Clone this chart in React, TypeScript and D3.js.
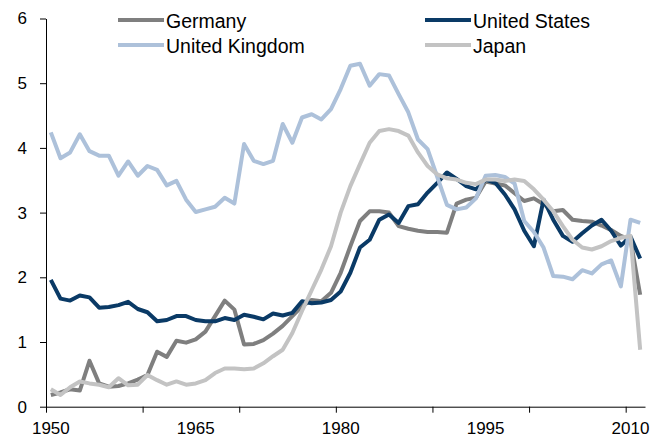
import React, { useEffect, useRef } from 'react';
import * as d3 from 'd3';

// Categories (one per year)
const years = d3.range(1950, 2012);

// Series values, 1950..2011
const germany = [
  0.18, 0.22, 0.27, 0.25, 0.71, 0.36, 0.31, 0.32, 0.36, 0.42,
  0.49, 0.85, 0.77, 1.02, 0.99, 1.04, 1.16, 1.40, 1.64, 1.50,
  0.96, 0.97, 1.03, 1.13, 1.25, 1.40, 1.55, 1.65, 1.63, 1.76,
  2.07, 2.48, 2.87, 3.02, 3.02, 3.00, 2.79, 2.75, 2.72, 2.70,
  2.70, 2.69, 3.14, 3.20, 3.23, 3.48, 3.45, 3.42, 3.30, 3.18,
  3.22, 3.13, 3.02, 3.04, 2.89, 2.87, 2.86, 2.80, 2.73, 2.64,
  2.58, 1.73,
];
const unitedStates = [
  1.96, 1.67, 1.64, 1.72, 1.69, 1.53, 1.54, 1.57, 1.62, 1.51,
  1.46, 1.32, 1.34, 1.40, 1.40, 1.34, 1.32, 1.32, 1.37, 1.34,
  1.42, 1.39, 1.35, 1.44, 1.41, 1.45, 1.63, 1.60, 1.61, 1.65,
  1.78, 2.07, 2.46, 2.58, 2.89, 2.97, 2.84, 3.10, 3.13, 3.31,
  3.46, 3.62, 3.52, 3.41, 3.36, 3.51, 3.46, 3.28, 3.05, 2.72,
  2.48, 3.20, 2.89, 2.64, 2.55, 2.68, 2.80, 2.89, 2.72, 2.49,
  2.63, 2.29,
];
const unitedKingdom = [
  4.24, 3.84, 3.93, 4.21, 3.95, 3.88, 3.88, 3.57, 3.79, 3.57,
  3.72, 3.66, 3.42, 3.49, 3.20, 3.01, 3.05, 3.09, 3.23, 3.14,
  4.06, 3.80, 3.75, 3.80, 4.37, 4.08, 4.47, 4.52, 4.44, 4.60,
  4.91, 5.27, 5.30, 4.96, 5.14, 5.12, 4.83, 4.55, 4.13, 3.98,
  3.55, 3.12, 3.05, 3.08, 3.22, 3.57, 3.58, 3.55, 3.45, 2.87,
  2.70, 2.46, 2.02, 2.01, 1.97, 2.11, 2.06, 2.20, 2.26, 1.86,
  2.89, 2.84,
];
const japan = [
  0.27, 0.18, 0.30, 0.39, 0.36, 0.34, 0.30, 0.44, 0.33, 0.34,
  0.49, 0.41, 0.34, 0.39, 0.34, 0.36, 0.41, 0.52, 0.59, 0.59,
  0.58, 0.59, 0.67, 0.78, 0.88, 1.14, 1.48, 1.80, 2.12, 2.48,
  3.00, 3.41, 3.75, 4.08, 4.26, 4.29, 4.26, 4.19, 3.93, 3.72,
  3.59, 3.53, 3.51, 3.46, 3.44, 3.51, 3.51, 3.49, 3.51, 3.49,
  3.36, 3.20, 3.02, 2.79, 2.58, 2.46, 2.43, 2.48, 2.56, 2.61,
  2.64, 0.88,
];

// Axis ticks and labels
const yTicks = [0, 1, 2, 3, 4, 5, 6];
const xTickYears = [1950, 1960, 1970, 1980, 1990, 2000, 2010];
const xLabelYears = [1950, 1965, 1980, 1995, 2010];

const series = [
  { name: 'Germany', values: germany, color: '#7f7f7f' },
  { name: 'United States', values: unitedStates, color: '#0a3a66' },
  { name: 'United Kingdom', values: unitedKingdom, color: '#adc1da' },
  { name: 'Japan', values: japan, color: '#c3c3c3' },
];

const FONT = '"Liberation Sans", Arial, sans-serif';

const App = () => {
  const svgRef = useRef(null);

  useEffect(() => {
    const width = 669;
    const height = 439;
    const left = 46;
    const right = 645;
    const bottom = 406.7;
    const top = 18.5;

    const svg = d3.select(svgRef.current);
    svg.selectAll('*').remove();
    svg.attr('width', width).attr('height', height);

    // Scales
    const x = d3.scaleBand<string>()
      .domain(years.map(String))
      .range([left, right])
      .padding(0);
    const xEdge = d3.scaleLinear()
      .domain([years[0], years[years.length - 1] + 1])
      .range([left, right]);
    const y = d3.scaleLinear().domain([0, 6]).range([bottom, top]);

    // Y axis
    const yAxis = svg.append('g')
      .attr('transform', `translate(${left},0)`)
      .call(d3.axisLeft(y).tickValues(yTicks).tickFormat(d3.format('d')).tickSize(6).tickPadding(13).tickSizeOuter(0));
    yAxis.selectAll('text')
      .attr('font-family', FONT)
      .attr('font-size', 17)
      .attr('fill', '#000');
    yAxis.selectAll('line, path').attr('stroke', '#000');

    // X axis: ticks every 10 years, labels every 15
    const xAxis = svg.append('g')
      .attr('transform', `translate(0,${bottom})`)
      .call(d3.axisBottom(xEdge).tickValues(xTickYears).tickSize(6).tickSizeOuter(0).tickFormat(() => ''));
    xAxis.selectAll('line, path').attr('stroke', '#000');

    const xLabels = svg.append('g')
      .attr('transform', `translate(0,${bottom})`)
      .call(d3.axisBottom(x).tickValues(xLabelYears.map(String)).tickSize(0).tickPadding(15));
    xLabels.select('.domain').remove();
    xLabels.selectAll('text')
      .attr('font-family', FONT)
      .attr('font-size', 17)
      .attr('fill', '#000');

    // Lines
    const line = d3.line<number>()
      .x((_, i) => x(String(years[i]))! + x.bandwidth() / 2)
      .y((d) => y(d));

    series.forEach((s) => {
      svg.append('path')
        .datum(s.values)
        .attr('d', line)
        .attr('fill', 'none')
        .attr('stroke', s.color)
        .attr('stroke-width', 4)
        .attr('stroke-linejoin', 'round');
    });

    // Legend
    const legendPos = [
      { lx: 118, ly: 20 },
      { lx: 425, ly: 20 },
      { lx: 118, ly: 45 },
      { lx: 425, ly: 45 },
    ];
    series.forEach((s, i) => {
      const { lx, ly } = legendPos[i];
      svg.append('line')
        .attr('x1', lx)
        .attr('x2', lx + 46)
        .attr('y1', ly)
        .attr('y2', ly)
        .attr('stroke', s.color)
        .attr('stroke-width', 4);
      svg.append('text')
        .attr('x', lx + 48)
        .attr('y', ly + 7.5)
        .attr('font-family', FONT)
        .attr('font-size', 19.5)
        .attr('fill', '#000')
        .text(s.name);
    });
  }, []);

  return (
    <div style={{ position: 'absolute', left: 0, top: 0 }}>
      <svg ref={svgRef} style={{ display: 'block', background: '#fff' }}></svg>
    </div>
  );
};

export default App;
